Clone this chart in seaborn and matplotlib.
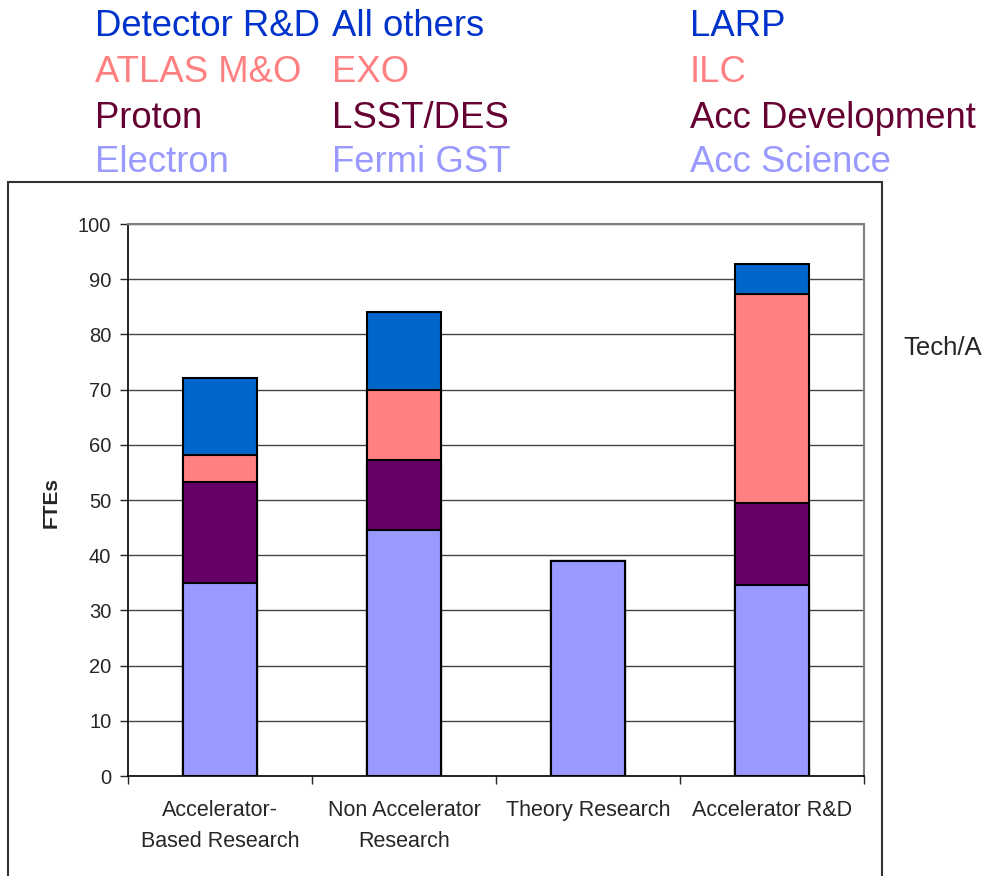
import numpy as np
import matplotlib.pyplot as plt
from matplotlib.patches import Rectangle
import seaborn as sns

# ----- data -----
categories = ["Accelerator-\nBased Research", "Non Accelerator\nResearch",
              "Theory Research", "Accelerator R&D"]
electron = [35.0, 44.6, 39.0, 34.6]   # bottom layer (light purple)
proton = [18.3, 12.6, 0.0, 14.8]      # dark purple
atlas = [4.8, 12.8, 0.0, 37.9]        # salmon
detector = [14.0, 14.1, 0.0, 5.4]     # blue (top)

bar_colors = ["#9999FF", "#660066", "#FF8080", "#0066CC"]
text_colors = ["#0033CC", "#FF8080", "#660033", "#9999FF"]  # header rows, top to bottom

header_cols = [
    ["Detector R&D", "ATLAS M&O", "Proton", "Electron"],
    ["All others", "EXO", "LSST/DES", "Fermi GST"],
    ["LARP", "ILC", "Acc Development", "Acc Science"],
]
header_x = [95, 332, 690]
header_baselines = [36, 82, 128, 172]

sns.set_style("white")
plt.rcParams["font.family"] = ["Liberation Sans", "DejaVu Sans"]

W, H = 984, 876
fig = plt.figure(figsize=(W / 100, H / 100), dpi=100)
ax = fig.add_axes([128 / W, 100 / H, (864 - 128) / W, (776 - 224) / H])

# stacked bars: draw cumulative totals from the top layer down
layers = np.array([electron, proton, atlas, detector])
cum = np.cumsum(layers, axis=0)
for i in range(3, -1, -1):
    sns.barplot(x=categories, y=cum[i], color=bar_colors[i], saturation=1,
                width=0.4, edgecolor="black", linewidth=1.5, errorbar=None, ax=ax)

ax.set_ylim(0, 100)
ax.set_xlim(-0.5, 3.5)
ax.set_yticks(range(0, 101, 10))
ax.tick_params(axis="y", labelsize=14.5, length=6, width=1, direction="out", pad=6, left=True)

ax.set_xticks([-0.5, 0.5, 1.5, 2.5, 3.5])
ax.set_xticklabels([])
ax.set_xticks([0, 1, 2, 3], minor=True)
ax.set_xticklabels(categories, minor=True, fontsize=15.5, linespacing=1.62)
ax.tick_params(axis="x", which="major", length=6, width=1, direction="out", bottom=True)
ax.tick_params(axis="x", which="minor", length=0, pad=17)
ax.set_xlabel("")
ax.set_ylabel("")

ax.yaxis.grid(True, color="#444444", linewidth=1)
ax.set_axisbelow(True)
for side in ["left", "bottom"]:
    ax.spines[side].set_color("black")
    ax.spines[side].set_linewidth(1.2)
for side in ["top", "right"]:
    ax.spines[side].set_color("#808080")
    ax.spines[side].set_linewidth(1.5)

fig.text(51 / W, 1 - 502 / H, "FTEs", rotation=90, fontsize=15, fontweight="bold",
         ha="center", va="center")

# header labels
for col, x in zip(header_cols, header_x):
    for txt, c, yb in zip(col, text_colors, header_baselines):
        fig.text(x / W, 1 - yb / H, txt, color=c, fontsize=26.3, ha="left", va="baseline")

fig.text(903 / W, 1 - 355 / H, "Tech/A", fontsize=18.5, ha="left", va="baseline")

# chart area border
fig.add_artist(Rectangle((8 / W, -0.02), (882 - 8) / W, (876 - 182) / H + 0.02,
                         transform=fig.transFigure, fill=False,
                         edgecolor="#333333", linewidth=1.5))

fig.savefig("out.png", dpi=100)
